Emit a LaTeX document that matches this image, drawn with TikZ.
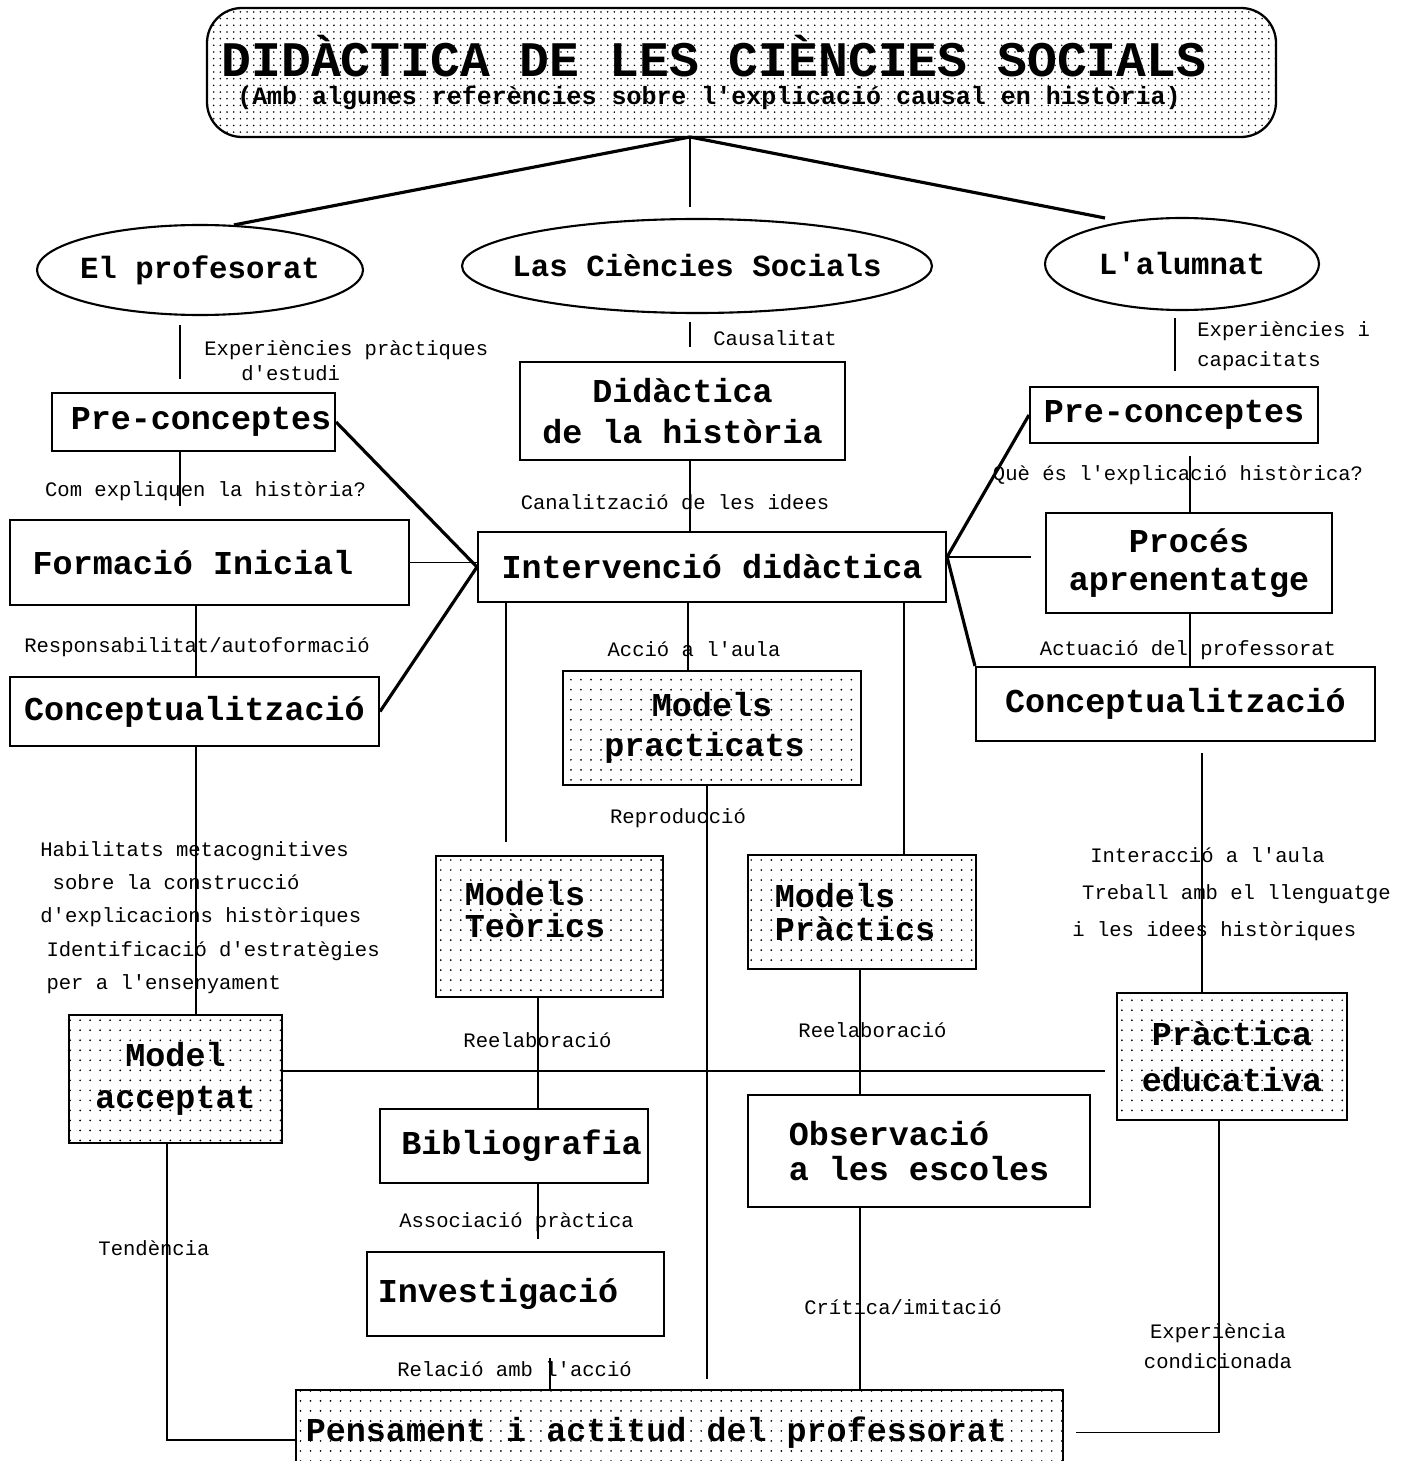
\documentclass[tikz,border=0pt]{standalone}
\usepackage{fontspec}
\setmainfont{Liberation Mono}[Ligatures=TeXOff]
\usetikzlibrary{shapes.geometric,patterns,calc}
\newcommand{\lblfont}{\fontsize{11.7}{14}\selectfont}
\newcommand{\boxfont}{\fontsize{19}{23}\selectfont\bfseries}
\newcommand{\ovalfont}{\fontsize{17.5}{20}\selectfont\bfseries}
\newcommand{\ttlfont}{\fontsize{28.3}{32}\selectfont\bfseries}
\newcommand{\subttlfont}{\fontsize{14.2}{16}\selectfont\bfseries}
\pgfdeclarepatternformonly{scandots}{\pgfqpoint{-1pt}{-1pt}}{\pgfqpoint{1pt}{1pt}}{\pgfqpoint{5.7pt}{5.7pt}}{\pgfpathcircle{\pgfqpoint{0pt}{0pt}}{0.55pt}\pgfusepath{fill}}
\pgfdeclarepatternformonly{titledots}{\pgfqpoint{-1pt}{-1pt}}{\pgfqpoint{1pt}{1pt}}{\pgfqpoint{3.8pt}{3.8pt}}{\pgfpathcircle{\pgfqpoint{0pt}{0pt}}{0.5pt}\pgfusepath{fill}}

\begin{document}
\begin{tikzpicture}[every node/.style={font=\lblfont, inner sep=0pt},
    box/.style={draw, line width=1.2pt, inner sep=0pt, align=center, font=\boxfont},
    dotbox/.style={box, pattern=scandots},
    oval/.style={draw, ellipse, line width=1.2pt, inner sep=0pt, font=\ovalfont},
    link/.style={line width=0.9pt},
    heavy/.style={line width=1.8pt}]
        \useasboundingbox (0,0) rectangle (28.32,-29.22);

        % Title
        \node[box, rounded corners=0.7cm, line width=1.3pt, pattern=titledots, minimum width=21.38cm, minimum height=2.58cm, font=\ttlfont] (title) at (14.83,-1.45)
            {DIDÀCTICA DE LES CIÈNCIES SOCIALS\hspace*{1.1cm}\\[-16pt]
            {\subttlfont (Amb algunes referències sobre l'explicació causal en història)\hspace*{1.3cm}}};

        % Three groups
        \node[oval, minimum width=6.52cm, minimum height=1.80cm] (profL) at (4.00,-5.40) {\makebox[0pt]{El profesorat}};
        \node[oval, minimum width=9.40cm, minimum height=1.88cm] (ccss) at (13.94,-5.32) {\makebox[0pt]{Las Ciències Socials}};
        \node[oval, minimum width=5.48cm, minimum height=1.84cm] (alum) at (23.64,-5.28) {\makebox[0pt]{L'alumnat}};

        \coordinate (hub) at (13.80,-2.74);
        \coordinate (ccssTop) at (13.80,-4.14);
        \coordinate (alumTop) at (22.10,-4.36);
        \draw[heavy] (hub) -- (profL.53);
        \draw[link] (hub) -- (ccssTop);
        \draw[heavy] (hub) -- (alumTop);

        % Teacher column (left)
        \node[box, minimum width=5.66cm, minimum height=1.16cm] (preL) at (3.87,-8.44) {\hspace*{0.3cm}Pre-conceptes};
        \node[box, minimum width=7.98cm, minimum height=1.70cm] (formacio) at (4.19,-11.25) {Formació Inicial\hspace*{0.66cm}};
        \node[box, minimum width=7.38cm, minimum height=1.38cm] (concL) at (3.89,-14.23) {Conceptualització};
        \node[dotbox, minimum width=4.26cm, minimum height=2.56cm] (modacc) at (3.51,-21.58) {Model\\[1pt]acceptat};

        % Centre column
        \node[box, minimum width=6.50cm, minimum height=1.96cm] (didhist) at (13.65,-8.22) {Didàctica\\de la història};
        \node[box, minimum width=9.36cm, minimum height=1.40cm] (interv) at (14.24,-11.34) {Intervenció didàctica};
        \node[dotbox, minimum width=5.96cm, minimum height=2.28cm] (modprac) at (14.24,-14.56) {Models\\practicats\hspace*{0.3cm}};
        \node[dotbox, minimum width=4.54cm, minimum height=2.82cm, align=left, text depth=0.68cm] (modteor) at (10.99,-18.53) {Models\\[-5pt]Teòrics\hspace*{0.58cm}};
        \node[dotbox, minimum width=4.56cm, minimum height=2.28cm, align=left] (modprc) at (17.24,-18.24) {Models\\[-4pt]Pràctics\hspace*{0.28cm}};
        \node[box, minimum width=5.36cm, minimum height=1.48cm] (biblio) at (10.28,-22.92) {\hspace*{0.3cm}Bibliografia};
        \node[box, minimum width=6.84cm, minimum height=2.24cm, align=left] (observ) at (18.38,-23.02) {Observació\\[-3pt]a les escoles};
        \node[box, minimum width=5.94cm, minimum height=1.68cm] (invest) at (10.31,-25.88) {Investigació\hspace*{0.70cm}};
        \node[dotbox, minimum width=15.34cm, minimum height=1.70cm] (pensam) at (13.59,-28.65) {Pensament i actitud del professorat\hspace*{0.92cm}};

        % Pupil column (right)
        \node[box, minimum width=5.76cm, minimum height=1.12cm] (preR) at (23.48,-8.30) {Pre-conceptes};
        \node[box, minimum width=5.72cm, minimum height=2.00cm] (proces) at (23.78,-11.26) {Procés\\[-1.5pt]aprenentatge};
        \node[box, minimum width=7.98cm, minimum height=1.48cm] (concR) at (23.51,-14.08) {Conceptualització};
        \node[dotbox, minimum width=4.60cm, minimum height=2.54cm] (practEd) at (24.64,-21.13) {Pràctica\\[3.5pt]educativa};

        % Connectors, left
        \draw[link, shorten <=0.18cm, shorten >=0.26cm] (3.60,0 |- profL.south) -- (3.60,0 |- preL.north);
        \draw[link, shorten >=0.26cm] (3.60,0 |- preL.south) -- (3.60,0 |- formacio.north);
        \draw[link] (3.92,0 |- formacio.south) -- (3.92,0 |- concL.north);
        \draw[link] (3.92,0 |- concL.south) -- (3.92,0 |- modacc.north);
        \draw[link] (3.34,0 |- modacc.south) |- ([yshift=-0.15cm]pensam.west);
        \draw[heavy] (preL.east) -- (interv.west);
        \draw[link] (formacio.east) -- (formacio.east -| interv.west);
        \draw[heavy] (concL.east) -- (interv.west);

        % Connectors, centre
        \draw[link, shorten <=0.16cm, shorten >=0.28cm] (13.80,0 |- ccss.south) -- (13.80,0 |- didhist.north);
        \draw[link] (13.80,0 |- didhist.south) -- (13.80,0 |- interv.north);
        \draw[link] (13.76,0 |- interv.south) -- (13.76,0 |- modprac.north);
        \draw[link, shorten >=0.26cm] (10.12,0 |- interv.south) -- (10.12,0 |- modteor.north);
        \draw[link] (18.08,0 |- interv.south) -- (18.08,0 |- modprc.north);
        \draw[link, shorten >=0.20cm] (14.14,0 |- modprac.south) -- (14.14,0 |- pensam.north);
        \draw[link] (10.76,0 |- modteor.south) -- (10.76,0 |- biblio.north);
        \draw[link] (17.20,0 |- modprc.south) -- (17.20,0 |- observ.north);
        \draw[link, shorten >=0.24cm] (10.76,0 |- biblio.south) -- (10.76,0 |- invest.north);
        \draw[link, shorten <=0.42cm] (11.00,0 |- invest.south) -- (11.00,0 |- pensam.north);
        \draw[link] (17.20,0 |- observ.south) -- (17.20,0 |- pensam.north);
        \draw[link, shorten >=0.22cm] ([yshift=0.16cm]modacc.east) -- ([yshift=0.16cm]modacc.east -| practEd.west);

        % Connectors, right
        \coordinate (iR) at ([yshift=0.2cm]interv.east);
        \draw[link, shorten <=0.14cm, shorten >=0.30cm] (23.50,0 |- alum.south) -- (23.50,0 |- preR.north);
        \draw[heavy] (iR) -- (preR.west);
        \draw[link, shorten >=0.28cm] (iR) -- (iR -| proces.west);
        \draw[heavy] (iR) -- (concR.north west);
        \draw[link, shorten <=0.24cm] (23.80,0 |- preR.south) -- (23.80,0 |- proces.north);
        \draw[link] (23.80,0 |- proces.south) -- (23.80,0 |- concR.north);
        \draw[link, shorten <=0.22cm] (24.04,0 |- concR.south) -- (24.04,0 |- practEd.north);
        \draw[link] (24.38,0 |- practEd.south) |- ([xshift=0.24cm]pensam.east);

        % Connector labels
        \node[align=left, anchor=west] (lblExpL) at (4.08,-7.21) {Experiències pràctiques\\\hspace*{1.8em}d'estudi};
        \node[anchor=west] (lblCaus) at (14.26,-6.76) {Causalitat};
        \node[align=left, anchor=west] (lblExpR) at (23.94,-6.92) {Experiències i\\[3pt]capacitats};
        \node (lblCom) at (4.11,-9.82) {Com expliquen la història?};
        \node (lblCanal) at (13.50,-10.04) {Canalització de les idees};
        \node (lblQue) at (23.56,-9.50) {Què és l'explicació històrica?};
        \node (lblResp) at (3.94,-12.94) {Responsabilitat/autoformació};
        \node (lblAccio) at (13.88,-12.98) {Acció a l'aula};
        \node (lblActu) at (23.76,-13.00) {Actuació del professorat};
        \node (lblRepro) at (13.56,-16.36) {Reproducció};
        \node[align=left, anchor=west] (lblHab) at (0.80,-18.35)
            {Habilitats metacognitives\\[5pt]\hspace*{0.6em}sobre la construcció\\[5pt]d'explicacions històriques\\[5pt]\hspace*{0.3em}Identificació d'estratègies\\[5pt]\hspace*{0.3em}per a l'ensenyament};
        \node[align=left, anchor=west] (lblInter) at (21.44,-17.88)
            {\hspace*{0.87em}Interacció a l'aula\\[7pt]\hspace*{0.48em}Treball amb el llenguatge\\[7pt]i les idees històriques};
        \node (lblReelT) at (10.75,-20.80) {Reelaboració};
        \node (lblReelP) at (17.45,-20.60) {Reelaboració};
        \node (lblTend) at (3.08,-24.96) {Tendència};
        \node (lblAssoc) at (10.33,-24.44) {Associació pràctica};
        \node (lblCrit) at (18.06,-26.14) {Crítica/imitació};
        \node (lblRel) at (10.29,-27.38) {Relació amb l'acció};
        \node[align=center] (lblExpC) at (24.36,-26.93) {Experiència\\[3pt]condicionada};
    \end{tikzpicture}
\end{document}
